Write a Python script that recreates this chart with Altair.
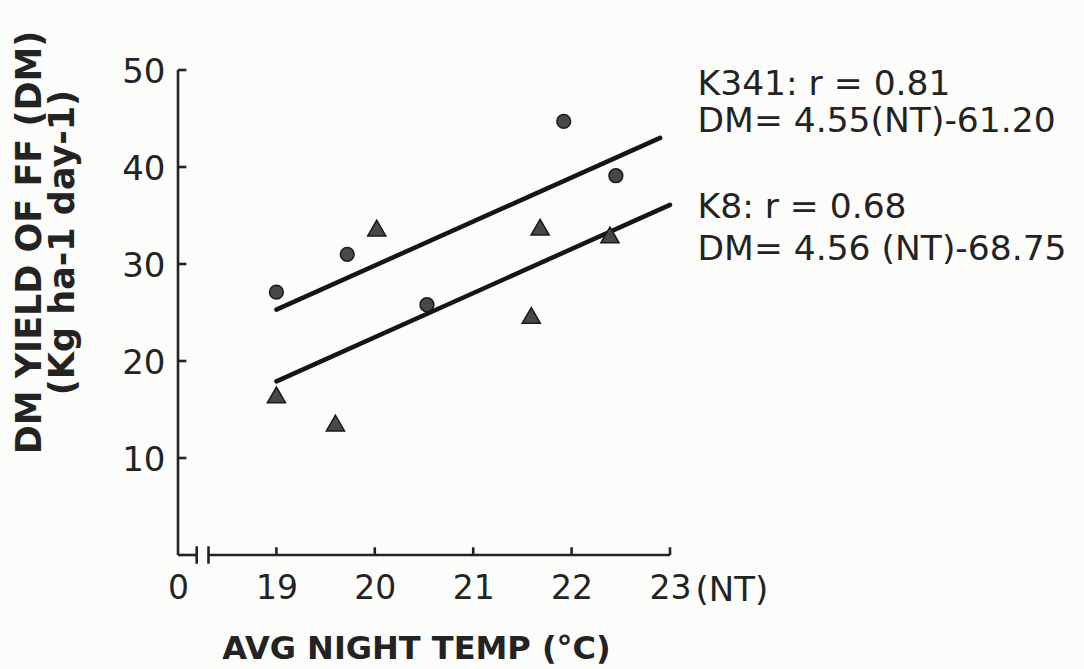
import altair as alt
import pandas as pd

# ---- data ----
k341_nt = [19.0, 19.72, 20.53, 21.92, 22.45]
k341_dm = [27.1, 31.0, 25.8, 44.7, 39.1]
k8_nt = [19.0, 19.6, 20.02, 21.59, 21.68, 22.39]
k8_dm = [16.5, 13.6, 33.7, 24.7, 33.8, 33.0]
fit_k341_nt = [19.0, 22.9]
fit_k341_dm = [25.3, 43.0]
fit_k8_nt = [19.0, 23.0]
fit_k8_dm = [17.9, 36.1]
x_tick_values = [18, 19, 20, 21, 22, 23]
y_tick_values = [10, 20, 30, 40, 50]
annotation_lines = ["K341: r = 0.81", "DM= 4.55(NT)-61.20", "K8: r = 0.68", "DM= 4.56 (NT)-68.75"]
annotation_nt = [23.28, 23.28, 23.28, 23.28]
annotation_dm = [47.4, 43.6, 34.7, 30.4]

INK = "#232323"
FONT = "DejaVu Sans"

pts = pd.DataFrame({
    "nt": k341_nt + k8_nt,
    "dm": k341_dm + k8_dm,
    "cv": ["K341"] * len(k341_nt) + ["K8"] * len(k8_nt),
})
fits = pd.DataFrame({
    "nt": [fit_k341_nt[0], fit_k8_nt[0]],
    "nt2": [fit_k341_nt[1], fit_k8_nt[1]],
    "dm": [fit_k341_dm[0], fit_k8_dm[0]],
    "dm2": [fit_k341_dm[1], fit_k8_dm[1]],
})

# hand-drawn style axis frame (inward ticks, broken x axis)
x0, brk1, brk2 = x_tick_values[0], 18.19, 18.31
segs = [dict(nt=x0, nt2=x0, dm=0, dm2=y_tick_values[-1]),
        dict(nt=x0, nt2=brk1, dm=0, dm2=0),
        dict(nt=brk2, nt2=x_tick_values[-1], dm=0, dm2=0),
        dict(nt=brk1, nt2=brk1, dm=-0.9, dm2=0.9),
        dict(nt=brk2, nt2=brk2, dm=-0.9, dm2=0.9)]
for t in x_tick_values[1:]:
    segs.append(dict(nt=t, nt2=t, dm=0, dm2=0.8))
for t in y_tick_values:
    segs.append(dict(nt=x0, nt2=x0 + 0.085, dm=t, dm2=t))
segs = pd.DataFrame(segs)

ann = pd.DataFrame({"nt": annotation_nt, "dm": annotation_dm, "txt": annotation_lines})
nt_lab = pd.DataFrame({"nt": [23.26], "dm": [-4.75], "txt": ["(NT)"]})

xs = alt.Scale(domain=[18, 23], nice=False, zero=False)
ys = alt.Scale(domain=[0, 50], nice=False, zero=False)

x_axis = alt.Axis(values=x_tick_values, labelExpr="datum.value == 18 ? '0' : datum.label",
                  domain=False, ticks=False, tickSize=0, grid=False,
                  labelFontSize=33, labelFont=FONT, labelColor=INK,
                  labelBaseline="alphabetic", labelPadding=43, labelFlush=False,
                  title="AVG NIGHT TEMP (°C)", titleFontSize=32, titleFont=FONT,
                  titleFontWeight="bold", titleColor=INK, titleX=238, titleY=103,
                  titleAlign="center", titleBaseline="alphabetic")
y_axis = alt.Axis(values=y_tick_values, domain=False, ticks=False, tickSize=0, grid=False,
                  labelFontSize=34, labelFont=FONT, labelColor=INK, labelPadding=13,
                  labelOffset=2, labelFlush=False,
                  title=["DM YIELD OF FF (DM)", "(Kg ha-1 day-1)"], titleFontSize=35,
                  titleFont=FONT, titleFontWeight="bold", titleColor=INK,
                  titleLineHeight=33, titleAngle=270, titleX=-138, titleY=172,
                  titleAlign="center", titleBaseline="alphabetic")

X = alt.X("nt:Q", scale=xs, axis=x_axis)
Y = alt.Y("dm:Q", scale=ys, axis=y_axis)

frame = alt.Chart(segs).mark_rule(color=INK, strokeWidth=2.6).encode(
    x=X, x2="nt2:Q", y=Y, y2="dm2:Q")
fitlines = alt.Chart(fits).mark_rule(color="#151515", strokeWidth=4.5, strokeCap="round").encode(
    x=X, x2="nt2:Q", y=Y, y2="dm2:Q")
points = alt.Chart(pts).mark_point(filled=True, opacity=1, color="#484848",
                                   stroke="#1a1a1a", strokeWidth=1.5).encode(
    x=X, y=Y,
    shape=alt.Shape("cv:N", scale=alt.Scale(domain=["K341", "K8"], range=["circle", "triangle-up"]), legend=None),
    size=alt.Size("cv:N", scale=alt.Scale(domain=["K341", "K8"], range=[190, 330]), legend=None),
)
texts = alt.Chart(ann).mark_text(align="left", baseline="alphabetic", fontSize=34.5,
                                 font=FONT, color=INK).encode(x=X, y=Y, text="txt:N")
ntext = alt.Chart(nt_lab).mark_text(align="left", baseline="alphabetic", fontSize=34,
                                    font=FONT, color=INK).encode(x=X, y=Y, text="txt:N")

chart = alt.layer(frame, fitlines, points, texts, ntext).properties(
    width=492, height=485,
    padding={"left": 178, "top": 70, "right": 414, "bottom": 114},
    autosize=alt.AutoSizeParams(type="none"),
    background="#fcfcfa",
).configure_view(stroke=None)

chart.save("out.html", embed_options={"renderer": "svg", "actions": False})
